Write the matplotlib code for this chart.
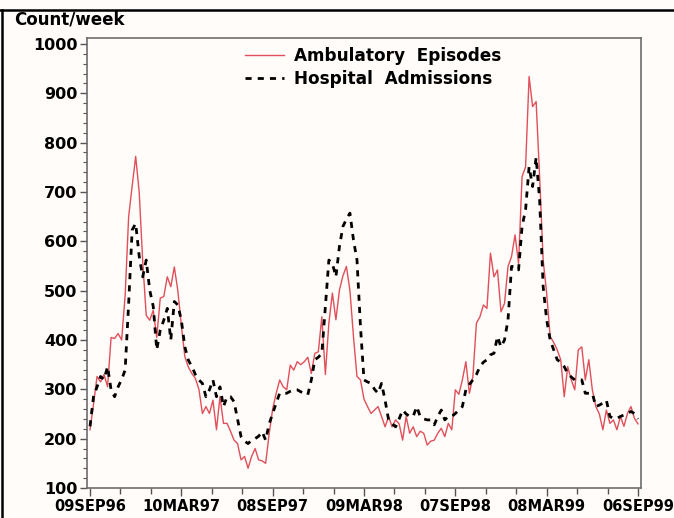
import numpy as np
import matplotlib
matplotlib.use("Agg")
import matplotlib.pyplot as plt
import matplotlib.dates as mdates
from matplotlib.ticker import FixedLocator, MultipleLocator, FuncFormatter
from matplotlib.lines import Line2D
import datetime as dt

# weekly counts, 09SEP96 .. 06SEP99 (157 weeks)
start = dt.date(1996, 9, 9)

ambulatory = [
    218, 270, 326, 315, 330, 305, 405, 403, 413, 400,
    490, 650, 712, 772, 700, 560, 450, 440, 460, 405,
    485, 488, 528, 508, 548, 500, 430, 366, 345, 332,
    322, 300, 251, 265, 251, 278, 218, 285, 231, 231,
    215, 197, 190, 157, 164, 140, 164, 180, 157, 155,
    150, 210, 260, 292, 319, 305, 299, 349, 339, 356,
    350, 356, 365, 332, 373, 376, 447, 330, 434, 495,
    441, 501, 530, 549, 500, 407, 326, 319, 280, 265,
    251, 258, 265, 245, 224, 245, 224, 238, 230, 197,
    245, 211, 224, 204, 215, 211, 187, 195, 197, 211,
    221, 204, 231, 218, 299, 290, 319, 356, 292, 326,
    434, 447, 471, 464, 576, 528, 542, 457, 474, 549,
    569, 613, 555, 731, 751, 934, 873, 883, 731, 562,
    495, 407, 395, 380, 360, 285, 346, 319, 299, 380,
    386, 319, 360, 299, 265, 250, 218, 258, 231, 238,
    218, 245, 225, 251, 265, 241, 230,
]

hospital = [
    225, 285, 305, 326, 320, 346, 299, 285, 305, 320,
    339, 474, 623, 636, 570, 528, 562, 501, 468, 380,
    420, 440, 464, 400, 478, 471, 440, 386, 359, 346,
    330, 319, 312, 285, 299, 319, 285, 305, 265, 285,
    285, 275, 240, 204, 195, 190, 197, 200, 205, 214,
    197, 230, 251, 272, 292, 292, 292, 296, 299, 299,
    295, 292, 289, 319, 360, 365, 373, 467, 562, 555,
    528, 589, 630, 645, 657, 603, 562, 427, 319, 315,
    312, 300, 292, 312, 278, 238, 230, 224, 240, 258,
    250, 245, 245, 265, 245, 240, 238, 238, 228, 245,
    258, 238, 245, 245, 251, 258, 265, 299, 310, 319,
    330, 346, 355, 360, 370, 373, 407, 386, 400, 441,
    549, 549, 542, 630, 664, 751, 711, 770, 684, 508,
    441, 400, 380, 360, 355, 346, 332, 325, 319, 319,
    319, 292, 292, 292, 265, 268, 272, 278, 245, 241,
    241, 245, 248, 251, 255, 251, 240,
]

weeks = [start + dt.timedelta(days=7 * i) for i in range(len(ambulatory))]
major_dates = [start + dt.timedelta(days=182 * k) for k in range(7)]

bg = "#fffcfa"
plt.rcParams["font.family"] = "DejaVu Sans"
plt.rcParams["font.weight"] = "bold"

fig = plt.figure(figsize=(6.74, 5.18), dpi=100, facecolor=bg)
ax = fig.add_axes([87 / 674, 30 / 518, 554 / 674, 450 / 518], facecolor=bg)

ax.plot(weeks, ambulatory, color="#e0505a", lw=1.0, label="Ambulatory  Episodes")
ax.plot(weeks, hospital, color="black", lw=2.0, dashes=(2.2, 2.2),
        label="Hospital  Admissions")

ax.set_xlim(mdates.date2num(start) - 6, mdates.date2num(major_dates[-1]) + 6)
ax.set_ylim(100, 1012)

ax.xaxis.set_major_locator(FixedLocator(mdates.date2num(major_dates)))
minor = []
for d in major_dates[:-1]:
    n = mdates.date2num(d)
    minor += [n + 182 / 3, n + 2 * 182 / 3]
ax.xaxis.set_minor_locator(FixedLocator(minor))
ax.xaxis.set_major_formatter(
    FuncFormatter(lambda v, p: mdates.num2date(v).strftime("%d%b%y").upper()))

ax.yaxis.set_major_locator(MultipleLocator(100))
ax.yaxis.set_minor_locator(MultipleLocator(20))

for s in ["top", "right", "left", "bottom"]:
    ax.spines[s].set_color("#6e6e6e")
    ax.spines[s].set_linewidth(1.2)

ax.tick_params(axis="x", which="major", length=6, width=1, color="#555555",
               labelsize=10.5, pad=2)
ax.tick_params(axis="x", which="minor", length=4, width=1, color="#555555")
ax.tick_params(axis="y", which="major", length=5, width=1, color="#555555",
               labelsize=11.5, pad=2)
ax.tick_params(axis="y", which="minor", length=3, width=0.8, color="#555555")

fig.text(14 / 674, 1 - 10 / 518, "Count/week", fontsize=12, fontweight="bold",
         ha="left", va="top")

ax.legend(loc="upper left", bbox_to_anchor=(0.285, 0.98), frameon=False,
          fontsize=12.2, handlelength=2.3, handletextpad=0.6,
          borderpad=0, borderaxespad=0, labelspacing=0.3)

# outer border like the original output
fig.add_artist(Line2D([0, 1], [1 - 10 / 518, 1 - 10 / 518], transform=fig.transFigure,
                      color="black", lw=1.8))
fig.add_artist(Line2D([2 / 674, 2 / 674], [0, 1 - 10 / 518], transform=fig.transFigure,
                      color="black", lw=1.8))

fig.savefig("out.png", dpi=100, facecolor=bg)
